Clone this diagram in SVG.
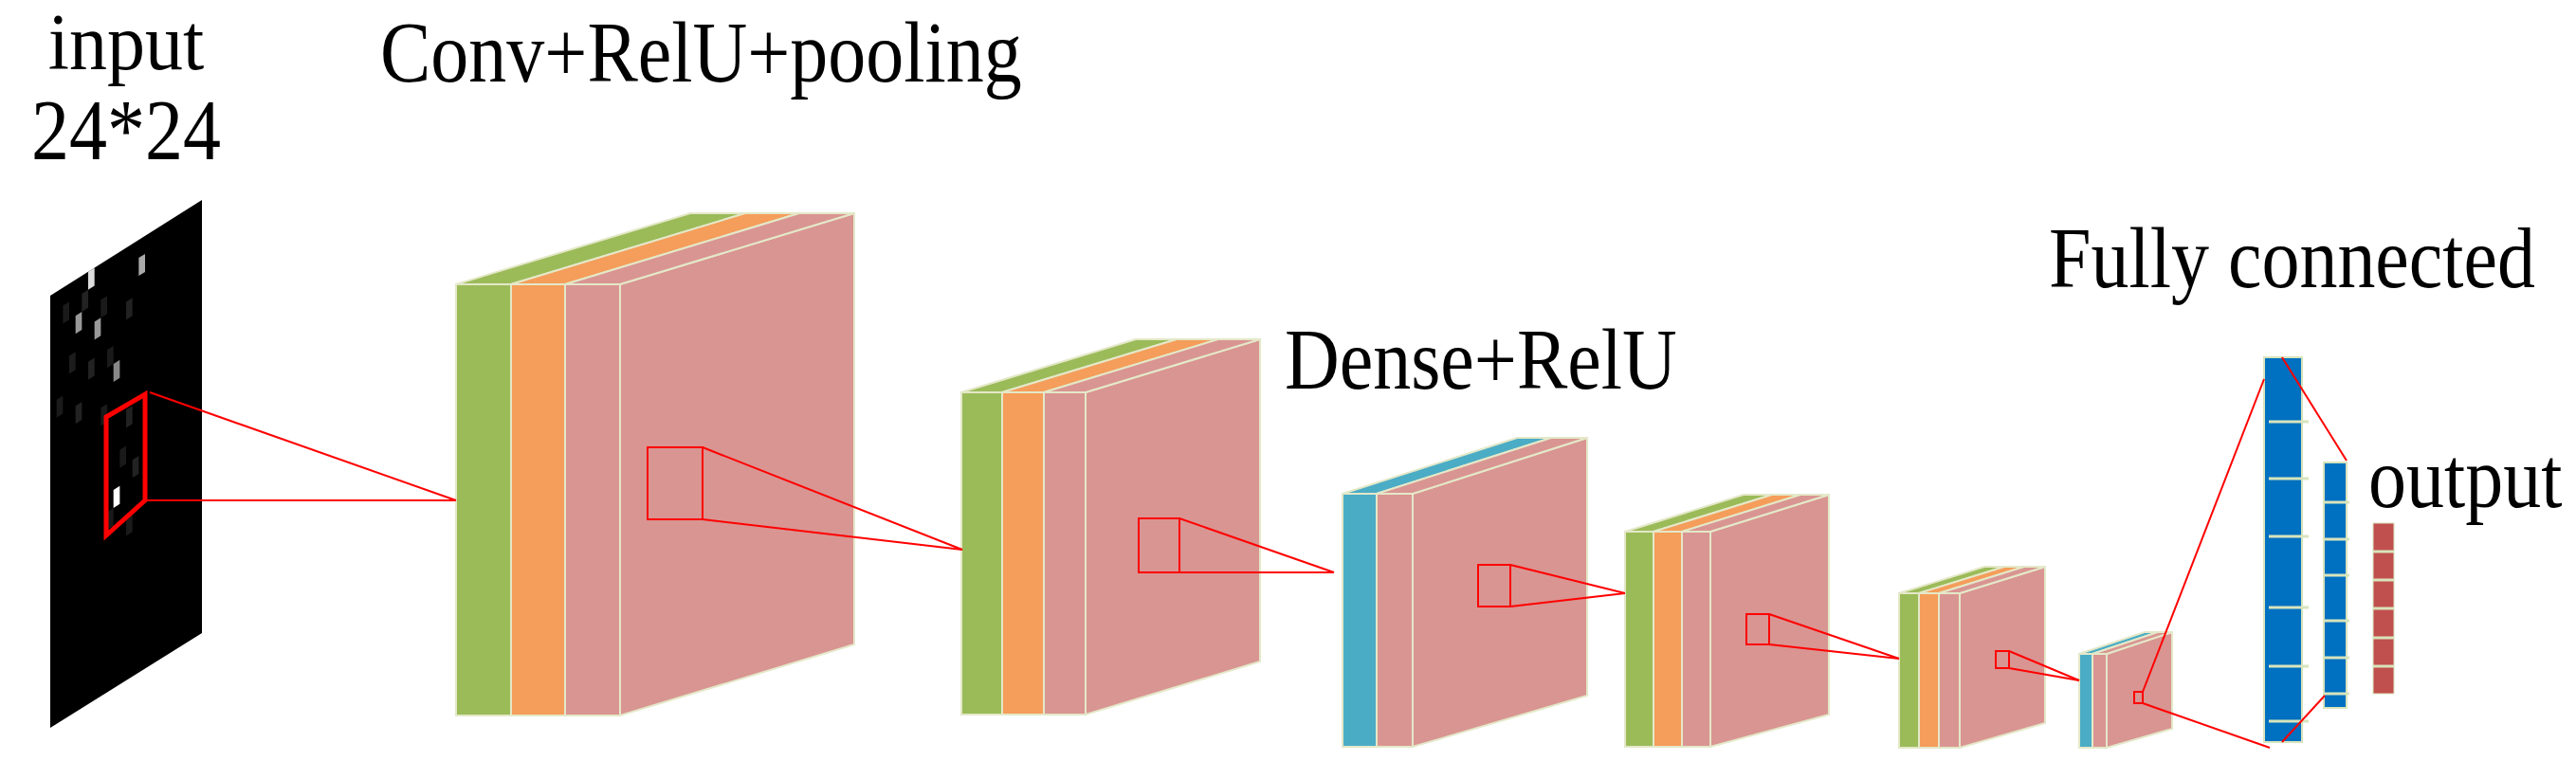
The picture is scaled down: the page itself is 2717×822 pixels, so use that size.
<svg xmlns="http://www.w3.org/2000/svg" width="2717" height="822" viewBox="0 0 2717 822">
<style>
text{font-family:"Liberation Serif","Times New Roman",serif;fill:#000}
.l{font-size:80px}
.g{fill:#9bbb59}.o{fill:#f59d5a}.p{fill:#d99592}.t{fill:#4bacc6}.b{fill:#0070c0}.r{fill:#c0504d}
.s{stroke:#e4e8c8;stroke-width:2}
.red{fill:none;stroke:#ff0000;stroke-width:2}
.tick{stroke:#d8e4bc;stroke-width:3}
</style>
<rect width="2717" height="822" fill="#fff"/>
<g id="labels">
<text class="l" transform="translate(133,73) scale(1,1.05)" text-anchor="middle">input</text>
<text class="l" transform="translate(133,168) scale(1,1.15)" text-anchor="middle">24*24</text>
<text class="l" transform="translate(401,86) scale(1,1.15)" font-size="79">Conv+RelU+pooling</text>
<text class="l" transform="translate(1355,410) scale(1,1.15)" font-size="79">Dense+RelU</text>
<text class="l" transform="translate(2161,303) scale(1,1.15)">Fully connected</text>
<text class="l" transform="translate(2498,535) scale(1,1.15)">output</text>
<text transform="translate(693,447) scale(1,1.15)" font-size="56" font-weight="bold">3*3</text>
</g>
<g id="input">
<polygon points="53,312 213,211 213,668 53,768" fill="#000"/>
<g transform="matrix(6.667,-4.208,0,19,53,312)">
<rect x="14" y="1" width="1" height="1" fill="#aaa"/>
<rect x="6" y="0" width="1" height="1" fill="#ddd"/>
<rect x="4" y="2" width="1" height="1" fill="#999"/>
<rect x="7" y="3" width="1" height="1" fill="#999"/>
<rect x="10" y="6" width="1" height="1" fill="#888"/>
<rect x="10" y="13" width="1" height="1" fill="#fff"/>
<rect x="2" y="1" width="1" height="1" fill="#1a1a1a"/>
<rect x="5" y="1" width="1" height="1" fill="#222"/>
<rect x="8" y="2" width="1" height="1" fill="#1a1a1a"/>
<rect x="12" y="3" width="1" height="1" fill="#222"/>
<rect x="3" y="4" width="1" height="1" fill="#1c1c1c"/>
<rect x="6" y="5" width="1" height="1" fill="#222"/>
<rect x="9" y="5" width="1" height="1" fill="#1a1a1a"/>
<rect x="1" y="6" width="1" height="1" fill="#1a1a1a"/>
<rect x="4" y="7" width="1" height="1" fill="#222"/>
<rect x="8" y="8" width="1" height="1" fill="#1a1a1a"/>
<rect x="12" y="9" width="1" height="1" fill="#222"/>
<rect x="11" y="11" width="1" height="1" fill="#1a1a1a"/>
<rect x="13" y="12" width="1" height="1" fill="#222"/>
<rect x="9" y="14" width="1" height="1" fill="#1a1a1a"/>
<rect x="12" y="15" width="1" height="1" fill="#1a1a1a"/>
</g>
<polygon points="112,440 153,416 153,528 112,565" fill="none" stroke="#ff0000" stroke-width="5"/>
</g>
<g id="layer1" class="s">
<polygon class="p" points="654,300 901,225 901,680 654,755"/>
<polygon class="g" points="481,300 539,300 786,225 728,225"/>
<polygon class="o" points="539,300 596,300 843,225 786,225"/>
<polygon class="p" points="596,300 654,300 901,225 843,225"/>
<rect class="g" x="481" y="300" width="58" height="455"/>
<rect class="o" x="539" y="300" width="57" height="455"/>
<rect class="p" x="596" y="300" width="58" height="455"/>
</g>
<g id="layer2" class="s">
<polygon class="p" points="1145,414 1329,358 1329,698 1145,754"/>
<polygon class="g" points="1014,414 1057,414 1241,358 1198,358"/>
<polygon class="o" points="1057,414 1101,414 1285,358 1241,358"/>
<polygon class="p" points="1101,414 1145,414 1329,358 1285,358"/>
<rect class="g" x="1014" y="414" width="43" height="340"/>
<rect class="o" x="1057" y="414" width="44" height="340"/>
<rect class="p" x="1101" y="414" width="44" height="340"/>
</g>
<g id="layer3" class="s">
<polygon class="p" points="1490,521 1674,462 1674,734 1490,788"/>
<polygon class="t" points="1416,521 1452,521 1636,462 1600,462"/>
<polygon class="p" points="1452,521 1490,521 1674,462 1636,462"/>
<rect class="t" x="1416" y="521" width="36" height="267"/>
<rect class="p" x="1452" y="521" width="38" height="267"/>
</g>
<g id="layer4" class="s">
<polygon class="p" points="1804,561 1929,522 1929,754 1804,788"/>
<polygon class="g" points="1714,561 1744,561 1869,522 1839,522"/>
<polygon class="o" points="1744,561 1774,561 1899,522 1869,522"/>
<polygon class="p" points="1774,561 1804,561 1929,522 1899,522"/>
<rect class="g" x="1714" y="561" width="30" height="227"/>
<rect class="o" x="1744" y="561" width="30" height="227"/>
<rect class="p" x="1774" y="561" width="30" height="227"/>
</g>
<g id="layer5" class="s">
<polygon class="p" points="2067,626 2157,598 2157,763 2067,789"/>
<polygon class="g" points="2003,626 2024,626 2114,598 2093,598"/>
<polygon class="o" points="2024,626 2045,626 2135,598 2114,598"/>
<polygon class="p" points="2045,626 2067,626 2157,598 2135,598"/>
<rect class="g" x="2003" y="626" width="21" height="163"/>
<rect class="o" x="2024" y="626" width="21" height="163"/>
<rect class="p" x="2045" y="626" width="22" height="163"/>
</g>
<g id="layer6" class="s">
<polygon class="p" points="2222,690 2291,667 2291,769 2222,789"/>
<polygon class="t" points="2193,690 2207,690 2276,667 2262,667"/>
<polygon class="p" points="2207,690 2222,690 2291,667 2276,667"/>
<rect class="t" x="2193" y="690" width="14" height="99"/>
<rect class="p" x="2207" y="690" width="15" height="99"/>
</g>
<g id="fc1">
<rect class="b" x="2388" y="377" width="40" height="406" stroke="#d8e4bc" stroke-width="2"/>
<g class="tick"><line x1="2393" y1="445" x2="2435" y2="445"/><line x1="2393" y1="505" x2="2435" y2="505"/><line x1="2393" y1="566" x2="2435" y2="566"/><line x1="2393" y1="641" x2="2435" y2="641"/><line x1="2393" y1="703" x2="2435" y2="703"/><line x1="2393" y1="761" x2="2435" y2="761"/></g>
</g>
<g id="fc2">
<rect class="b" x="2451" y="488" width="24" height="259" stroke="#d8e4bc" stroke-width="2"/>
<g class="tick"><line x1="2452" y1="530" x2="2478" y2="530"/><line x1="2452" y1="569" x2="2478" y2="569"/><line x1="2452" y1="607" x2="2478" y2="607"/><line x1="2452" y1="655" x2="2478" y2="655"/><line x1="2452" y1="694" x2="2478" y2="694"/><line x1="2452" y1="732" x2="2478" y2="732"/></g>
</g>
<g id="output">
<rect class="r" x="2503" y="552" width="22" height="180" stroke="#d8e4bc" stroke-width="1"/>
<g class="tick" stroke-width="2"><line x1="2503" y1="582" x2="2525" y2="582"/><line x1="2503" y1="612" x2="2525" y2="612"/><line x1="2503" y1="642" x2="2525" y2="642"/><line x1="2503" y1="673" x2="2525" y2="673"/><line x1="2503" y1="703" x2="2525" y2="703"/></g>
</g>
<g id="connectors" class="red">
<line x1="158" y1="414" x2="481" y2="528"/>
<line x1="153" y1="528" x2="481" y2="528"/>
<rect x="683" y="472" width="58" height="76"/>
<line x1="741" y1="472" x2="1015" y2="580"/>
<line x1="741" y1="548" x2="1015" y2="580"/>
<rect x="1201" y="547" width="43" height="57"/>
<line x1="1244" y1="547" x2="1407" y2="604"/>
<line x1="1244" y1="604" x2="1407" y2="604"/>
<rect x="1559" y="596" width="34" height="44"/>
<line x1="1593" y1="596" x2="1714" y2="626"/>
<line x1="1593" y1="640" x2="1714" y2="626"/>
<rect x="1842" y="648" width="24" height="32"/>
<line x1="1866" y1="648" x2="2003" y2="695"/>
<line x1="1866" y1="680" x2="2003" y2="695"/>
<rect x="2105" y="687" width="14" height="18"/>
<line x1="2119" y1="687" x2="2193" y2="718"/>
<line x1="2119" y1="705" x2="2193" y2="718"/>
<rect x="2251" y="730" width="9" height="12"/>
<line x1="2260" y1="730" x2="2388" y2="400"/>
<line x1="2260" y1="742" x2="2394" y2="789"/>
<line x1="2407" y1="377" x2="2475" y2="486"/>
<line x1="2407" y1="783" x2="2452" y2="734"/>
</g>
</svg>
